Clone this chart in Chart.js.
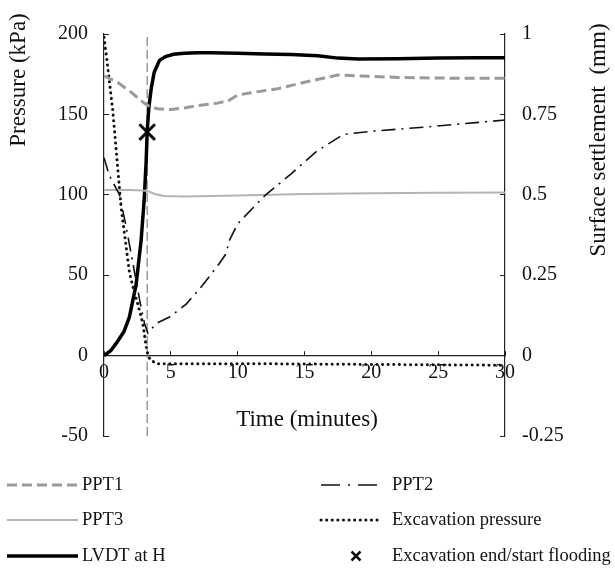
<!DOCTYPE html>
<html>
<head>
<meta charset="utf-8">
<title>Pressure and settlement</title>
<script src="https://cdn.jsdelivr.net/npm/chart.js@4.4.1/dist/chart.umd.min.js"></script>
<style>
  body { margin: 0; background: #fff; }
</style>
</head>
<body>
<canvas id="chart" width="615" height="569"></canvas>
<script>
// values (time in minutes, pressure in kPa, settlement in mm)
const ppt1Time = [0, 0.5, 1, 2, 3, 3.4, 4, 5, 6, 7, 8.5, 9.3, 10, 11, 13, 15, 17.5, 19, 22, 26, 30];
const ppt1 = [174, 172, 170, 164, 157, 155, 153.5, 153, 154, 155.5, 157, 158.5, 162, 163.5, 166, 170, 174.5, 174, 173, 172.5, 172.5];

const ppt2Time = [0, 0.4, 1.16, 1.66, 2.28, 2.7, 3.03, 3.28, 3.5, 3.9, 4.9, 6.15, 7.4, 8.6, 9.1, 9.4, 10, 11.1, 12.1, 14, 15.9, 17.9, 20, 24.6, 30];
const ppt2 = [123, 112, 100, 80, 52, 33, 20, 14, 16, 20, 24, 32, 44, 57, 63, 72, 82, 91.5, 100, 113, 127, 137.5, 139.5, 142.5, 146.5];

const ppt3Time = [0, 2, 3.2, 3.8, 4.5, 6, 10, 15, 20, 25, 30];
const ppt3 = [103, 103, 102.5, 100.5, 99.3, 99, 99.5, 100.5, 101, 101.2, 101.5];

const excTime = [0, 0.2, 0.66, 1.28, 1.9, 2.3, 2.53, 2.9, 3.15, 3.3, 3.5, 4, 10, 20, 30];
const excPressure = [198, 185, 152, 92, 52, 38, 32, 20, 6, 0, -3, -5, -5, -5.5, -6];

const lvdtTime = [0, 0.5, 0.91, 1.5, 1.9, 2.4, 2.78, 3.0, 3.15, 3.23, 3.35, 3.53, 3.75, 4.15, 4.6, 5.2, 6, 7, 8, 9, 10, 12, 14, 16, 17.5, 19, 22, 25, 28, 30];
const lvdt = [0, 0.015, 0.038, 0.075, 0.12, 0.22, 0.36, 0.48, 0.6, 0.695, 0.77, 0.83, 0.88, 0.918, 0.93, 0.937, 0.94, 0.942, 0.942, 0.941, 0.94, 0.938, 0.936, 0.932, 0.925, 0.922, 0.923, 0.925, 0.926, 0.926];

const excavationEnd = 3.23;       // minutes
const excavationEndPressure = 139; // kPa, where the marker sits

const xTitle = 'Time (minutes)';
const yTitle = 'Pressure (kPa)';
const y2Title = 'Surface settlement  (mm)';

function toPoints(xs, ys) {
    return xs.map((x, i) => ({ x: x, y: ys[i] }));
}

Chart.defaults.font.family = '"Liberation Serif", "Times New Roman", serif';
Chart.defaults.font.size = 20;
Chart.defaults.color = '#111';

const datasets = [
    {
        label: 'PPT1',
        data: toPoints(ppt1Time, ppt1),
        borderColor: '#9a9a9a',
        borderWidth: 3,
        borderDash: [10, 5],
        yAxisID: 'y'
    },
    {
        label: 'PPT2',
        data: toPoints(ppt2Time, ppt2),
        borderColor: '#111',
        borderWidth: 1.6,
        borderDash: [14, 6, 2, 6],
        legendDash: [19, 8, 2, 8],
        yAxisID: 'y'
    },
    {
        label: 'PPT3',
        data: toPoints(ppt3Time, ppt3),
        borderColor: '#b4b4b4',
        borderWidth: 2,
        yAxisID: 'y'
    },
    {
        label: 'Excavation pressure',
        data: toPoints(excTime, excPressure),
        borderColor: '#111',
        borderWidth: 3,
        borderDash: [0.1, 5.5],
        borderCapStyle: 'round',
        yAxisID: 'y'
    },
    {
        label: 'LVDT at H',
        data: toPoints(lvdtTime, lvdt),
        borderColor: '#000',
        borderWidth: 3.5,
        yAxisID: 'y2'
    },
    {
        label: 'Excavation end/start flooding',
        type: 'scatter',
        data: [{ x: excavationEnd, y: excavationEndPressure }],
        pointStyle: 'crossRot',
        pointRadius: 11,
        pointBorderWidth: 3,
        borderColor: '#111',
        yAxisID: 'y'
    },
    {
        // vertical marker at the end of excavation, not in the legend
        label: '',
        data: [{ x: excavationEnd, y: -50 }, { x: excavationEnd, y: 200 }],
        borderColor: '#8a8a8a',
        borderWidth: 1.3,
        borderDash: [9, 4],
        yAxisID: 'y'
    }
];

// legend layout: two columns, three rows
const legendOrder = [0, 1, 2, 3, 4, 5];
const legendCols = [{ x1: 7, x2: 78, tx: 82 }, { x1: 321, x2: 378, tx: 392 }];
const legendRows = [485, 520, 556];

const extras = {
    id: 'extras',
    afterDraw(chart) {
        const ctx = chart.ctx;
        ctx.save();
        ctx.fillStyle = '#111';
        ctx.font = '23px "Liberation Serif", serif';
        ctx.textAlign = 'center';
        ctx.textBaseline = 'middle';
        ctx.fillText(xTitle, 307, 420);

        ctx.save();
        ctx.translate(19, 80);
        ctx.rotate(-Math.PI / 2);
        ctx.fillText(yTitle, 0, 0);
        ctx.restore();

        ctx.save();
        ctx.translate(599, 140);
        ctx.rotate(-Math.PI / 2);
        ctx.fillText(y2Title, 0, 0);
        ctx.restore();

        // legend
        ctx.font = '18.5px "Liberation Serif", serif';
        ctx.textAlign = 'left';
        legendOrder.forEach((dsIndex, i) => {
            const ds = chart.data.datasets[dsIndex];
            const col = legendCols[i % 2];
            const y = legendRows[Math.floor(i / 2)];
            if (ds.pointStyle) {
                const cx = 356;
                ctx.strokeStyle = ds.borderColor;
                ctx.lineWidth = 2.5;
                ctx.beginPath();
                ctx.moveTo(cx - 4.5, y - 4.5); ctx.lineTo(cx + 4.5, y + 4.5);
                ctx.moveTo(cx + 4.5, y - 4.5); ctx.lineTo(cx - 4.5, y + 4.5);
                ctx.stroke();
            } else {
                ctx.strokeStyle = ds.borderColor;
                ctx.lineWidth = ds.borderWidth;
                ctx.lineCap = ds.borderCapStyle || 'butt';
                ctx.setLineDash(ds.legendDash || ds.borderDash || []);
                ctx.beginPath();
                ctx.moveTo(col.x1, y);
                ctx.lineTo(col.x2, y);
                ctx.stroke();
                ctx.setLineDash([]);
                ctx.lineCap = 'butt';
            }
            ctx.fillStyle = '#111';
            ctx.fillText(ds.label, col.tx, y);
        });
        ctx.restore();
    }
};

const axisGrid = { drawOnChartArea: false, tickLength: -5, color: '#222', lineWidth: 1 };
const axisBorder = { color: '#222', width: 1.2 };

new Chart(document.getElementById('chart').getContext('2d'), {
    type: 'line',
    data: { datasets: datasets },
    options: {
        responsive: false,
        animation: false,
        layout: { padding: { top: 19, bottom: 133, left: 0, right: 0 } },
        elements: { point: { radius: 0 }, line: { tension: 0 } },
        plugins: {
            legend: { display: false },
            tooltip: { enabled: false }
        },
        scales: {
            x: {
                type: 'linear',
                min: 0,
                max: 30,
                position: { y: 0 },
                ticks: { stepSize: 5, padding: 10, maxRotation: 0 },
                grid: axisGrid,
                border: axisBorder
            },
            y: {
                position: 'left',
                min: -50,
                max: 200,
                ticks: { stepSize: 50, padding: 21, callback: v => String(v) },
                grid: axisGrid,
                border: axisBorder,
                afterFit(scale) { scale.width = 104; }
            },
            y2: {
                position: 'right',
                min: -0.25,
                max: 1,
                ticks: { stepSize: 0.25, padding: 22, callback: v => String(v) },
                grid: axisGrid,
                border: axisBorder,
                afterFit(scale) { scale.width = 110; }
            }
        }
    },
    plugins: [extras]
});
</script>
</body>
</html>
